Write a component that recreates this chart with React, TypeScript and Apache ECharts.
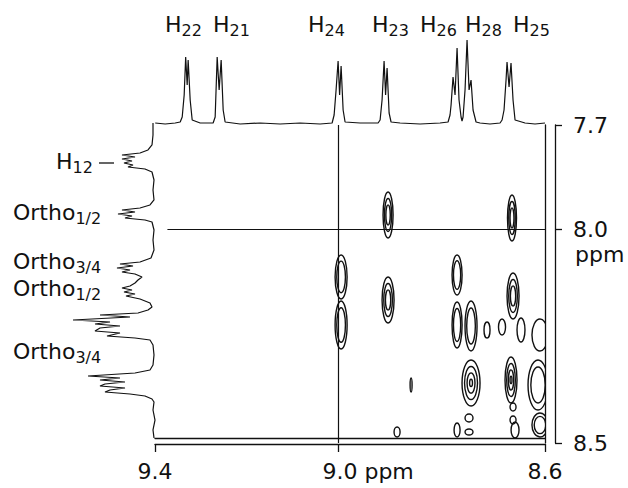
import { useEffect, useRef } from 'react';
import * as echarts from 'echarts';

// ---------- axes (ppm) ----------
const X_LOW = 8.6;
const X_HIGH = 9.354;
const Y_LOW = 7.757;
const Y_HIGH = 8.5;

const xTickValues = [9.354, 9.0, 8.6];
const xTickLabels = ['9.4', '9.0 ppm', '8.6'];
const yTickValues = [7.757, 8.0, 8.5];
const yTickLabels = ['7.7', '8.0', '8.5'];

// ---------- top (F2) 1D spectrum ----------
const topPpm = [
  9.3536, 9.3343, 9.315, 9.3053, 9.3014, 9.2976, 9.2947, 9.2918, 9.2899, 9.286, 9.2821, 9.2667,
  9.2416, 9.2377, 9.2338, 9.23, 9.2261, 9.2222, 9.2184, 9.1894, 9.1507, 9.1121, 9.0734, 9.0348,
  9.0116, 9.0077, 9.0039, 9.0, 8.9971, 8.9942, 8.9903, 8.9865, 8.9575, 8.9227, 8.9188, 8.915,
  8.9111, 8.9082, 8.9053, 8.9014, 8.8976, 8.8802, 8.8415, 8.8029, 8.7874, 8.7836, 8.7816, 8.7778,
  8.7739, 8.77, 8.7662, 8.7623, 8.7604, 8.7584, 8.7546, 8.7507, 8.7468, 8.743, 8.7391, 8.7333,
  8.7256, 8.7063, 8.6869, 8.683, 8.6792, 8.6753, 8.6734, 8.6695, 8.6657, 8.6618, 8.6579, 8.6386,
  8.6193, 8.6,
];
const topIntensity = [
  2, 1, 2, 3, 8, 30, 68, 40, 65, 25, 5, 2,
  2, 8, 68, 35, 65, 15, 3, 1, 2, 1, 2, 1,
  2, 10, 35, 64, 30, 59, 15, 3, 2, 2, 5, 25,
  64, 30, 57, 12, 3, 2, 1, 2, 3, 10, 20, 48,
  30, 77, 25, 8, 4, 8, 35, 85, 35, 45, 15, 3,
  2, 1, 2, 5, 15, 45, 63, 38, 62, 25, 5, 2,
  1, 2,
];

// ---------- left (F1) 1D spectrum ----------
const leftPpm = [
  7.7523, 7.7804, 7.8037, 7.8154, 7.8224, 7.8271, 7.8318, 7.8364, 7.8411, 7.8458, 7.8505, 7.8551,
  7.8598, 7.8668, 7.8855, 7.9089, 7.9322, 7.9439, 7.9509, 7.9556, 7.9603, 7.965, 7.9696, 7.9743,
  7.979, 7.9836, 8.0023, 8.0257, 8.0491, 8.0678, 8.0771, 8.0818, 8.0864, 8.0911, 8.0958, 8.1005,
  8.1051, 8.1121, 8.1192, 8.1262, 8.1332, 8.1379, 8.1425, 8.1472, 8.1519, 8.1565, 8.1636, 8.1729,
  8.1822, 8.1893, 8.1963, 8.2009, 8.2056, 8.2126, 8.2173, 8.222, 8.2266, 8.2313, 8.2383, 8.243,
  8.25, 8.2547, 8.2593, 8.271, 8.2944, 8.3178, 8.3294, 8.3364, 8.3435, 8.3481, 8.3528, 8.3575,
  8.3621, 8.3668, 8.3715, 8.3762, 8.3808, 8.3855, 8.3902, 8.3972, 8.4042, 8.4229, 8.4463, 8.4696,
  8.4883,
];
const leftIntensity = [
  2, 2, 3, 7, 15, 33, 20, 33, 23, 31, 22, 27,
  10, 3, 1, 2, 1, 5, 15, 33, 20, 37, 23, 30,
  10, 3, 1, 2, 1, 4, 15, 35, 22, 38, 25, 33,
  20, 13, 17, 20, 25, 33, 23, 31, 20, 29, 15, 5,
  3, 7, 17, 55, 25, 82, 45, 60, 35, 55, 60, 35,
  48, 20, 5, 2, 1, 2, 5, 20, 67, 35, 55, 30,
  50, 55, 30, 45, 50, 25, 10, 3, 1, 2, 0, 2,
  1,
];

// ---------- 2D cross peaks: centre (ppm), half widths (ppm), contour levels ----------
const crossX = [
  8.9034, 8.6638, 8.9942, 8.9942, 8.9034, 8.77, 8.77, 8.743, 8.743, 8.6618, 8.6657, 8.7121, 8.6831,
  8.6464, 8.8589, 8.886, 8.77, 8.7469, 8.7469, 8.6618, 8.6618, 8.6097, 8.6135, 8.6097, 8.6579,
];
const crossY = [
  7.9673, 7.9743, 8.1121, 8.2243, 8.1659, 8.1075, 8.2243, 8.2266, 8.3598, 8.1565, 8.3528, 8.236,
  8.229, 8.236, 8.3645, 8.4743, 8.4696, 8.4416, 8.4743, 8.4159, 8.4463, 8.2477, 8.3645, 8.4579,
  8.4696,
];
const crossHalfWidth = [
  0.0097, 0.0087, 0.0116, 0.0116, 0.0116, 0.0097, 0.0097, 0.0116, 0.0174, 0.0116, 0.0116, 0.0058,
  0.0068, 0.0077, 0.0019, 0.0058, 0.0058, 0.0077, 0.0077, 0.0058, 0.0058, 0.0155, 0.0193, 0.0155,
  0.0077,
];
const crossHalfHeight = [
  0.0537, 0.0537, 0.0514, 0.0561, 0.0537, 0.0467, 0.0537, 0.0584, 0.0537, 0.0537, 0.0537, 0.0187,
  0.0187, 0.028, 0.0164, 0.0117, 0.0164, 0.0093, 0.007, 0.0093, 0.0093, 0.0374, 0.0584, 0.028,
  0.0187,
];
const crossLevels = [3, 3, 2, 2, 3, 2, 2, 2, 4, 3, 4, 1, 1, 1, 1, 1, 1, 1, 1, 1, 1, 1, 2, 2, 1];

// reference lines
const refLineX = 9.0;
const refLineY = 8.0;
const refLineYStart = 9.33;

// assignment texts
const topAssignments = ['22', '21', '24', '23', '26', '28', '25'];
const leftAssignments = [
  ['H', '12'],
  ['Ortho', '1/2'],
  ['Ortho', '3/4'],
  ['Ortho', '1/2'],
  ['Ortho', '3/4'],
];

// ---------- layout (pixels) ----------
const topLabelLeft = [165, 213, 308, 372, 420, 465, 513];
const topLabelY = 24;
const leftLabelPos = [
  [56, 161],
  [13, 212],
  [13, 261],
  [13, 288],
  [13, 351],
];

const FONT = 'DejaVu Sans';
const INK = '#111';

const richLabel = {
  n: { fontFamily: FONT, fontSize: 22, lineHeight: 22, fill: INK, color: INK },
  s: { fontFamily: FONT, fontSize: 16, lineHeight: 16, padding: [12, 0, 0, 0], fill: INK, color: INK },
};

function nearest(values: number[], v: number) {
  let best = 0;
  for (let i = 1; i < values.length; i++) {
    if (Math.abs(values[i] - v) < Math.abs(values[best] - v)) best = i;
  }
  return best;
}

function labelText(main: string, sub: string, x: number, y: number) {
  return {
    type: 'text',
    x,
    y,
    silent: true,
    style: {
      text: `{n|${main}}{s|${sub}}`,
      rich: richLabel,
      align: 'left',
      textAlign: 'left',
      verticalAlign: 'middle',
      textVerticalAlign: 'middle',
      fill: INK,
    },
  };
}

export default function App() {
  const ref = useRef<HTMLDivElement>(null);

  useEffect(() => {
    if (!ref.current) return;
    const chart = echarts.init(ref.current, undefined, { renderer: 'svg' });

    const crossData = crossX.map((x, i) => [x, crossY[i], crossHalfWidth[i], crossHalfHeight[i], crossLevels[i]]);

    const graphics: any[] = [];
    topAssignments.forEach((sub, i) => graphics.push(labelText('H', sub, topLabelLeft[i], topLabelY)));
    leftAssignments.forEach(([m, s], i) => graphics.push(labelText(m, s, leftLabelPos[i][0], leftLabelPos[i][1])));
    graphics.push({
      type: 'line',
      silent: true,
      shape: { x1: 99, y1: 163, x2: 114, y2: 163 },
      style: { stroke: INK, lineWidth: 1.3 },
    });
    graphics.push({
      type: 'text',
      x: 575,
      y: 254,
      silent: true,
      style: {
        text: 'ppm',
        fontFamily: FONT,
        fontSize: 22,
        lineHeight: 18,
        fill: INK,
        align: 'left',
        textAlign: 'left',
        verticalAlign: 'middle',
        textVerticalAlign: 'middle',
      },
    });

    const axisLineStyle = { color: INK, width: 1.3 };

    chart.setOption({
      animation: false,
      backgroundColor: '#fff',
      grid: [
        { left: 155, right: 83, top: 125, bottom: 45 },
        { left: 155, right: 83, top: 25, height: 100 },
        { left: 60, right: 473, top: 125, bottom: 45 },
      ],
      xAxis: [
        {
          gridIndex: 0,
          type: 'value',
          min: X_LOW,
          max: X_HIGH,
          inverse: true,
          position: 'bottom',
          offset: 1,
          axisLine: { show: true, lineStyle: axisLineStyle },
          axisTick: { show: true, inside: false, length: 8, customValues: xTickValues, lineStyle: axisLineStyle },
          axisLabel: {
            show: true,
            customValues: xTickValues,
            margin: 17,
            fontFamily: FONT,
            fontSize: 22,
            lineHeight: 20,
            color: INK,
            formatter: (v: number) => {
              const t = xTickLabels[nearest(xTickValues, v)];
              return t.includes(' ') ? `{u|${t}}` : t;
            },
            rich: {
              u: { fontFamily: FONT, fontSize: 22, lineHeight: 20, color: INK, padding: [0, 0, 0, 60] },
            },
          },
          splitLine: { show: false },
        },
        {
          gridIndex: 0,
          type: 'value',
          min: X_LOW,
          max: X_HIGH,
          inverse: true,
          position: 'bottom',
          offset: -5,
          axisLine: { show: true, lineStyle: axisLineStyle },
          axisTick: { show: false },
          axisLabel: { show: false },
          splitLine: { show: false },
        },
        { gridIndex: 1, type: 'value', min: X_LOW, max: X_HIGH, inverse: true, show: false },
        { gridIndex: 2, type: 'value', min: 0, max: 95, inverse: true, show: false },
      ],
      yAxis: [
        {
          gridIndex: 0,
          type: 'value',
          min: Y_LOW,
          max: Y_HIGH,
          inverse: true,
          position: 'right',
          offset: 10,
          axisLine: { show: true, lineStyle: axisLineStyle },
          axisTick: { show: true, inside: false, length: 7, customValues: yTickValues, lineStyle: axisLineStyle },
          axisLabel: {
            show: true,
            customValues: yTickValues,
            margin: 18,
            fontFamily: FONT,
            fontSize: 22,
            lineHeight: 18,
            color: INK,
            formatter: (v: number) => yTickLabels[nearest(yTickValues, v)],
          },
          splitLine: { show: false },
        },
        {
          gridIndex: 0,
          type: 'value',
          min: Y_LOW,
          max: Y_HIGH,
          inverse: true,
          position: 'right',
          offset: 0,
          axisLine: { show: true, lineStyle: axisLineStyle },
          axisTick: { show: false },
          axisLabel: { show: false },
          splitLine: { show: false },
        },
        { gridIndex: 1, type: 'value', min: 0, max: 100, show: false },
        { gridIndex: 2, type: 'value', min: Y_LOW, max: Y_HIGH, inverse: true, show: false },
      ],
      series: [
        {
          type: 'custom',
          name: 'cross peaks',
          xAxisIndex: 0,
          yAxisIndex: 0,
          clip: true,
          silent: true,
          encode: { x: 0, y: 1 },
          data: crossData,
          renderItem: (_params: any, api: any) => {
            const c = api.coord([api.value(0), api.value(1)]);
            const s = api.size([api.value(2), api.value(3)]);
            const rx = Math.abs(s[0]);
            const ry = Math.abs(s[1]);
            const n = api.value(4);
            const children: any[] = [];
            for (let k = 0; k < n; k++) {
              const f = 1 - k * 0.28;
              children.push({
                type: 'ellipse',
                shape: { cx: c[0], cy: c[1], rx: Math.max(rx * f, 0.8), ry: Math.max(ry * f, 1) },
                style: { fill: 'none', stroke: INK, lineWidth: 1.4 },
              });
            }
            return { type: 'group', children };
          },
          markLine: {
            silent: true,
            symbol: 'none',
            label: { show: false },
            lineStyle: { color: INK, width: 1.2, type: 'solid' },
            emphasis: { disabled: true },
            data: [
              { xAxis: refLineX },
              [{ coord: [refLineYStart, refLineY] }, { coord: [X_LOW, refLineY] }],
            ],
          },
        },
        {
          type: 'line',
          name: 'F2 spectrum',
          xAxisIndex: 2,
          yAxisIndex: 2,
          showSymbol: false,
          clip: false,
          silent: true,
          lineStyle: { color: INK, width: 1.2 },
          data: topPpm.map((x, i) => [x, topIntensity[i]]),
        },
        {
          type: 'line',
          name: 'F1 spectrum',
          xAxisIndex: 3,
          yAxisIndex: 3,
          showSymbol: false,
          clip: false,
          silent: true,
          lineStyle: { color: INK, width: 1.2 },
          data: leftIntensity.map((v, i) => [v, leftPpm[i]]),
        },
      ],
      graphic: graphics,
    });

    return () => chart.dispose();
  }, []);

  return (
    <div
      ref={ref}
      style={{ position: 'fixed', left: 0, top: 0, width: 628, height: 488, background: '#fff' }}
    />
  );
}
